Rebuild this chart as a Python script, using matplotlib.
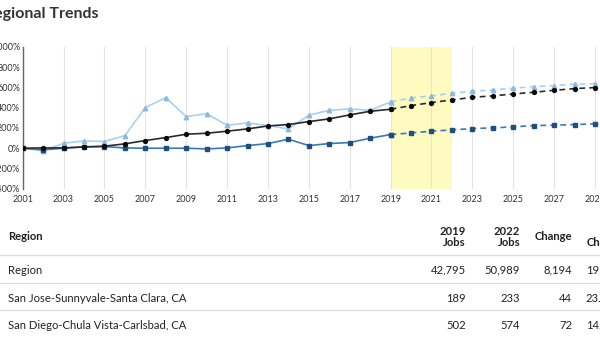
import matplotlib
matplotlib.use("Agg")
import matplotlib.pyplot as plt
from matplotlib.lines import Line2D

plt.rcParams['font.family'] = ['Lato', 'DejaVu Sans']

years = list(range(2001, 2030))
region = [0, 3, 3, 13, 20, 43, 76, 105, 138, 148, 168, 191, 220, 234, 263, 290,
          329, 365, 385, 421, 451, 477, 503, 517, 536, 553, 572, 589, 599]
san_jose = [0, -26, 49, 72, 66, 125, 401, 500, 312, 342, 227, 250, 224, 191, 326,
            375, 388, 375, 457, 497, 517, 543, 563, 576, 592, 609, 618, 632, 638]
san_diego = [0, -16, 0, 13, 16, 3, 0, 0, 0, -7, 3, 26, 46, 89, 26, 46, 56, 99,
             135, 151, 168, 181, 194, 201, 211, 224, 227, 234, 240]
forecast_start = 2019
highlight = (2019, 2022)
x_ticks = list(range(2001, 2031, 2))
y_ticks = [-400, -200, 0, 200, 400, 600, 800, 1000]

table_header = ["Region", "2019\nJobs", "2022\nJobs", "Change", "%\nChange"]
table_regions = ["Region", "San Jose-Sunnyvale-Santa Clara, CA",
                 "San Diego-Chula Vista-Carlsbad, CA"]
jobs_2019 = ["42,795", "189", "502"]
jobs_2022 = ["50,989", "233", "574"]
change = ["8,194", "44", "72"]
pct_change = ["19.1%", "23.3%", "14.3%"]

W, H = 600, 338
fig = plt.figure(figsize=(W / 100, H / 100), dpi=100)


def fx(x):
    return x / W


def fy(y):
    return 1 - y / H


# axes geometry in pixels
ax_left, ax_right = 22.7, 640
ax_top, ax_bot = 47, 188.7
ax = fig.add_axes([fx(ax_left), fy(ax_bot), fx(ax_right - ax_left), (ax_bot - ax_top) / H])
px_per_year = (595 - 22.7) / 28
ax.set_xlim(2001, 2001 + (ax_right - ax_left) / px_per_year)
ax.set_ylim(-400, 1000)

ax.axvspan(highlight[0], highlight[1], color='#fdfbbf', zorder=0, lw=0)

series = [
    (region, '#2b2b2b', '#0a0a0a', 'o', 2.8),
    (san_jose, '#a9d0ee', '#8db9de', '^', 3.2),
    (san_diego, '#3a78b8', '#1f4f80', 's', 2.7),
]
idx = years.index(forecast_start)
for vals, lc, mc, mk, ms in [series[1], series[2], series[0]]:
    ax.plot(years[:idx + 1], vals[:idx + 1], color=lc, lw=1.2, marker=mk,
            ms=ms, mfc=mc, mec=mc, zorder=3)
    ax.plot(years[idx:], vals[idx:], color=lc, lw=1.2, ls=(0, (3.5, 2.5)),
            marker=mk, ms=ms, mfc=mc, mec=mc, zorder=3)

ax.set_xticks(x_ticks)
ax.set_xticklabels([str(t) for t in x_ticks])
ax.set_yticks(y_ticks)
ax.set_yticklabels([f"{t}%" for t in y_ticks])
ax.grid(axis='x', color='#e3e3e3', lw=0.8, zorder=1)
ax.tick_params(axis='both', length=0, labelsize=6.5, colors='#333333', pad=2)
ax.tick_params(axis='x', pad=4.5)
for s in ['top', 'right', 'bottom']:
    ax.spines[s].set_visible(False)
ax.spines['left'].set_color('#666666')
ax.spines['left'].set_linewidth(1.0)
ax.patch.set_alpha(0)

# title (cropped at left in the reference)
fig.text(fx(98), fy(14), "Regional Trends", ha='right', va='center',
         fontsize=11.5, fontweight='bold', color='#333333')

# table
hdr_y = 237
fs = 8.1
fig.text(fx(8), fy(hdr_y), table_header[0], ha='left', va='center',
         fontsize=fs, fontweight='bold', color='#222222')
col_right = [466, 520, 572, 624]
for i, h in enumerate(table_header[1:]):
    fig.text(fx(col_right[i]), fy(hdr_y), h, ha='right', va='center',
             multialignment='right', fontsize=fs, fontweight='bold',
             color='#222222', linespacing=0.95)

val_right = [466, 520, 572, 617]
row_y = [270, 298, 325.5]
line_y = [255, 282.7, 310]
for ly in line_y:
    fig.add_artist(Line2D([0, 1], [fy(ly), fy(ly)], color='#dddddd', lw=0.9,
                          transform=fig.transFigure))
for r in range(len(table_regions)):
    y = fy(row_y[r])
    fig.text(fx(8), y, table_regions[r], ha='left', va='center', fontsize=fs,
             color='#222222')
    for c, col in enumerate([jobs_2019, jobs_2022, change, pct_change]):
        fig.text(fx(val_right[c]), y, col[r], ha='right', va='center',
                 fontsize=fs, color='#222222')

fig.savefig("out.png", dpi=100)
